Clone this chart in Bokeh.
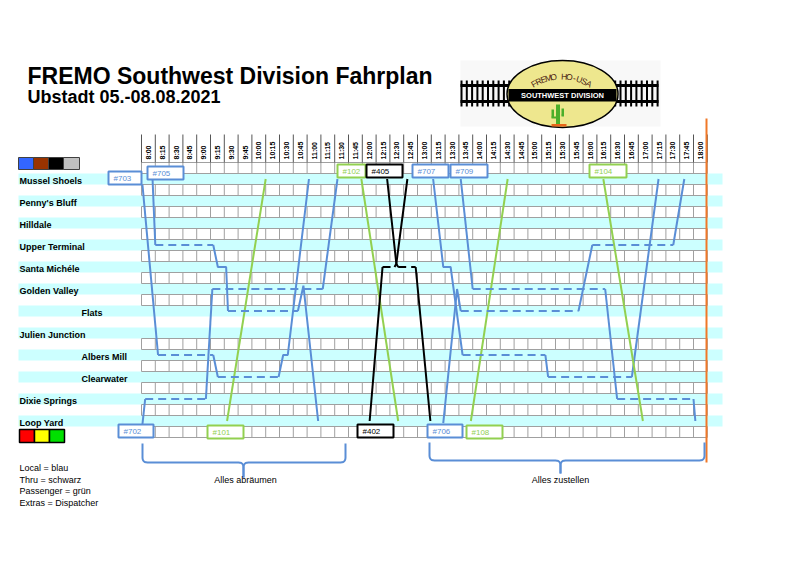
import math
from bokeh.plotting import figure
from bokeh.models import Range1d
from bokeh.embed import file_html
from bokeh.resources import INLINE
from bokeh.core.properties import value

# ---------------- data ----------------
stations = ["Mussel Shoels", "Penny's Bluff", "Hilldale", "Upper Terminal", "Santa Michéle",
            "Golden Valley", "Flats", "Julien Junction", "Albers Mill", "Clearwater",
            "Dixie Springs", "Loop Yard"]
station_indented = [False, False, False, False, False, False, True, False, True, True, False, False]

time_labels = ["8:00", "8:15", "8:30", "8:45", "9:00", "9:15", "9:30", "9:45",
               "10:00", "10:15", "10:30", "10:45", "11:00", "11:15", "11:30", "11:45",
               "12:00", "12:15", "12:30", "12:45", "13:00", "13:15", "13:30", "13:45",
               "14:00", "14:15", "14:30", "14:45", "15:00", "15:15", "15:30", "15:45",
               "16:00", "16:15", "16:30", "16:45", "17:00", "17:15", "17:30", "17:45", "18:00"]

# train paths: times and station positions (0 = Mussel Shoels ... 11 = Loop Yard)
t703 = ["8:01", "8:18", "9:18", "9:23", "10:29", "10:34", "10:39", "11:02"]
s703 = [0.25, 8, 8, 9, 9, 8, 8, 0]
t705 = ["8:12", "8:15", "9:18", "9:23", "9:32", "9:34", "10:50", "10:56", "11:12"]
s705 = [0, 3, 3, 4, 4, 6, 6, 4.85, 11]
t702 = ["8:01", "8:04", "9:10", "9:17", "11:17", "11:33"]
s702 = [11.15, 10, 10, 5, 5, 0]
t707 = ["13:17", "13:28", "13:36", "13:49", "15:19", "15:22", "16:53", "17:22"]
s707 = [0, 4, 4, 8, 8, 9, 9, 0]
t706 = ["13:28", "13:43", "13:47", "15:55", "16:10", "17:38", "17:50"]
s706 = [11.1, 5, 6, 6, 3, 3, 0]
t709 = ["13:47", "14:00", "16:24", "16:37", "18:00", "18:02"]
s709 = [0, 5, 5, 10, 10, 11]
t101 = ["9:33", "10:15"]
s101 = [11, 0]
t102 = ["11:59", "12:39"]
s102 = [0, 11]
t104 = ["16:22", "17:05"]
s104 = [0, 11]
t108 = ["13:58", "14:38"]
s108 = [11, 0]
t405 = ["12:27", "12:37", "12:39", "12:58", "13:14"]
s405 = [0, 3.85, 4, 4, 11]
t402 = ["12:08", "12:22", "12:35", "12:37", "12:49"]
s402 = [11, 4, 4, 3.85, 0]

BLUE = "#5a8ed6"
GREEN = "#92d050"
BLACK = "#000000"

trains = [(t703, s703, BLUE), (t705, s705, BLUE), (t702, s702, BLUE), (t707, s707, BLUE),
          (t706, s706, BLUE), (t709, s709, BLUE), (t101, s101, GREEN), (t102, s102, GREEN),
          (t104, s104, GREEN), (t108, s108, GREEN), (t405, s405, BLACK), (t402, s402, BLACK)]

# train number boxes: text, colour, left / right / top page-px
label_text = ["#703", "#705", "#102", "#405", "#707", "#709", "#104",
              "#702", "#101", "#402", "#706", "#108"]
label_color = [BLUE, BLUE, GREEN, BLACK, BLUE, BLUE, GREEN,
               BLUE, GREEN, BLACK, BLUE, GREEN]
label_left = [108, 147, 337, 366, 412, 450, 589, 118, 207, 357, 427, 466]
label_right = [141, 183, 365, 402, 448, 487, 626, 153, 243, 393, 462, 502]
label_top = [171, 166, 164, 164, 164, 164, 164, 424, 425, 424, 424, 425]
LBL_H = 13

legend_lines = ["Local = blau", "Thru = schwarz", "Passenger = grün", "Extras = Dispatcher"]

# ---------------- layout helpers ----------------
W, H = 784, 549
PX0, PXH = 141.0, 55.2     # page px of 8:00 and px per hour
PY0, PYS = 178.5, 22.0     # page px of first station row and px per row
OFF = 0                    # page px of the figure's top-left corner


def X(px):
    return 8 + (px - PX0) / PXH


def Y(py):
    return -(py - PY0) / PYS


def hrs(t):
    h, m = t.split(":")
    return int(h) + int(m) / 60.0


FONT = value("Liberation Sans")

p = figure(width=W, height=H, x_range=Range1d(X(OFF), X(OFF + W)), y_range=Range1d(Y(OFF + H), Y(OFF)),
           output_backend="svg", toolbar_location=None, min_border=0,
           x_axis_type=None, y_axis_type=None)
p.outline_line_color = None
p.background_fill_color = "white"
p.border_fill_color = "white"

# cyan station bands
p.quad(left=[X(18)] * 12, right=[X(722)] * 12,
       top=[-(i - 0.25) for i in range(12)], bottom=[-(i + 0.25) for i in range(12)],
       fill_color="#ccffff", line_color=None)

# cell rows
col_edges = [8 + k / 4 for k in range(len(time_labels) + 1)]
cell_rows = [-1] + [i for i in range(12) if i != 6]
hx0, hx1, hy0, hy1 = [], [], [], []
vx, vy0, vy1 = [], [], []
for r in cell_rows:
    top, bot = -(r + 0.25), -(r + 0.75)
    for yy in (top, bot):
        hx0.append(col_edges[0]); hx1.append(col_edges[-1]); hy0.append(yy); hy1.append(yy)
    for ce in col_edges:
        vx.append(ce); vy0.append(top); vy1.append(bot)
p.segment(x0=hx0, y0=hy0, x1=hx1, y1=hy1, line_color="#a0a0a0", line_width=1)
p.segment(x0=vx, y0=vy0, x1=vx, y1=vy1, line_color="#a0a0a0", line_width=1)

# header columns
p.segment(x0=col_edges, y0=[Y(134)] * len(col_edges), x1=col_edges, y1=[0.75] * len(col_edges),
          line_color="#555555", line_width=1)
p.text(x=[c + 0.125 for c in col_edges[:-1]], y=[Y(159)] * len(time_labels), text=time_labels,
       angle=math.pi / 2, text_align="left", text_baseline="middle",
       text_font=FONT, text_font_size="7px", text_font_style="bold", text_color="black")

# orange end line
p.segment(x0=[X(706)], y0=[Y(118)], x1=[X(706)], y1=[Y(462)], line_color="#f07828", line_width=2)

# train lines
solid_xs, solid_ys, solid_c = [], [], []
dash_xs, dash_ys, dash_c = [], [], []
for tt, ss, col in trains:
    xs = [hrs(t) for t in tt]
    ys = [-s for s in ss]
    run_x, run_y = [xs[0]], [ys[0]]
    for i in range(1, len(xs)):
        is_wait = (ss[i] == ss[i - 1]) and (xs[i] - xs[i - 1] > 10 / 60)
        if is_wait:
            if len(run_x) > 1:
                solid_xs.append(run_x); solid_ys.append(run_y); solid_c.append(col)
            dash_xs.append([xs[i - 1], xs[i]]); dash_ys.append([ys[i - 1], ys[i]]); dash_c.append(col)
            run_x, run_y = [xs[i]], [ys[i]]
        else:
            run_x.append(xs[i]); run_y.append(ys[i])
    if len(run_x) > 1:
        solid_xs.append(run_x); solid_ys.append(run_y); solid_c.append(col)

p.multi_line(xs=solid_xs, ys=solid_ys, line_color=solid_c, line_width=2)
p.multi_line(xs=dash_xs, ys=dash_ys, line_color=dash_c, line_width=2, line_dash="8 5")

# train number boxes
p.quad(left=[X(v) for v in label_left], right=[X(v) for v in label_right],
       top=[Y(v) for v in label_top], bottom=[Y(v + LBL_H) for v in label_top],
       fill_color="white", line_color=label_color, line_width=2)
p.text(x=[X(v + 5) for v in label_left], y=[Y(v + LBL_H / 2 + 0.5) for v in label_top],
       text=label_text, text_color=label_color, text_font=FONT, text_font_size="8px",
       text_align="left", text_baseline="middle")

# station labels
p.text(x=[X(81) if ind else X(19) for ind in station_indented], y=[-(i + 0.07) for i in range(12)],
       text=stations, text_font=FONT, text_font_size="9px", text_font_style="bold",
       text_align="left", text_baseline="middle", text_color="black")

# colour squares
p.quad(left=[X(18), X(33), X(48), X(63)], right=[X(33), X(48), X(63), X(79)],
       top=[Y(157)] * 4, bottom=[Y(169)] * 4,
       fill_color=["#3366ff", "#993300", "#000000", "#c0c0c0"], line_color="#404040", line_width=1)
p.quad(left=[X(19), X(34), X(49)], right=[X(34), X(49), X(64)],
       top=[Y(429)] * 3, bottom=[Y(442)] * 3,
       fill_color=["#ff0000", "#ffff00", "#00e000"], line_color="black", line_width=1.5)

# titles
p.text(x=[X(27)], y=[Y(75.5)], text=["FREMO Southwest Division Fahrplan"], text_font=FONT,
       text_font_size="23px", text_font_style="bold", text_baseline="middle", text_color="black")
p.text(x=[X(27)], y=[Y(96.5)], text=["Ubstadt 05.-08.08.2021"], text_font=FONT,
       text_font_size="18px", text_font_style="bold", text_baseline="middle", text_color="black")

# legend text
p.text(x=[X(19)] * 4, y=[Y(467.5 + 11.7 * i) for i in range(4)], text=legend_lines,
       text_font=FONT, text_font_size="9px", text_baseline="middle", text_color="black")


# braces
def brace(x0, x1, xm, ytop, ymid, ytip, r=5):
    def qc(a, c, b, n=6):
        pts = []
        for k in range(1, n + 1):
            t = k / n
            pts.append(((1 - t) ** 2 * a[0] + 2 * (1 - t) * t * c[0] + t * t * b[0],
                        (1 - t) ** 2 * a[1] + 2 * (1 - t) * t * c[1] + t * t * b[1]))
        return pts
    left = [(x0, ytop), (x0, ymid - r)] + qc((x0, ymid - r), (x0, ymid), (x0 + r, ymid)) + \
           [(xm - r, ymid)] + qc((xm - r, ymid), (xm, ymid), (xm, ymid + r)) + [(xm, ytip)]
    right = [(xm, ytip), (xm, ymid + r)] + qc((xm, ymid + r), (xm, ymid), (xm + r, ymid)) + \
            [(x1 - r, ymid)] + qc((x1 - r, ymid), (x1, ymid), (x1, ymid - r)) + [(x1, ytop)]
    return [[X(a) for a, b in left], [X(a) for a, b in right]], [[Y(b) for a, b in left], [Y(b) for a, b in right]]


bx1, by1 = brace(142, 345, 243, 443, 462, 477)
bx2, by2 = brace(429, 704, 560, 442, 460, 473)
p.multi_line(xs=bx1 + bx2, ys=by1 + by2, line_color=BLUE, line_width=2)
p.text(x=[X(245), X(560)], y=[Y(479), Y(479)], text=["Alles abräumen", "Alles zustellen"],
       text_font=FONT, text_font_size="9px", text_align="center", text_baseline="middle",
       text_color="black")

# ---------------- logo ----------------
p.quad(left=[X(460)], right=[X(660)], top=[Y(60)], bottom=[Y(126)], fill_color="#f8f8f8", line_color=None)
ties = [461 + 5.3 * k for k in range(38)]
p.segment(x0=[X(v) for v in ties], y0=[Y(80)] * len(ties), x1=[X(v) for v in ties], y1=[Y(106)] * len(ties),
          line_color="black", line_width=2)
p.segment(x0=[X(460), X(460)], y0=[Y(85), Y(101)], x1=[X(658), X(658)], y1=[Y(85), Y(101)],
          line_color="black", line_width=3)
p.ellipse(x=[X(562)], y=[Y(93.5)], width=[111 / PXH], height=[67 / PYS],
          fill_color="#eee78e", line_color="black", line_width=1.5)
p.quad(left=[X(508)], right=[X(616)], top=[Y(88.5)], bottom=[Y(101)], fill_color="black", line_color=None)
p.text(x=[X(562)], y=[Y(95)], text=["SOUTHWEST DIVISION"], text_font=FONT, text_font_size="7.5px",
       text_font_style="bold", text_color="white", text_align="center", text_baseline="middle")
arc_txt = "FREMO HO-USA"
cxp, cyp, rr = 561, 131, 55
n = len(arc_txt)
ax, ay, aang = [], [], []
for k, ch in enumerate(arc_txt):
    th = math.radians(90 + 30 - 60 * k / (n - 1))
    ax.append(X(cxp + rr * math.cos(th)))
    ay.append(Y(cyp - rr * math.sin(th)))
    aang.append(th - math.pi / 2)
p.text(x=ax, y=ay, text=list(arc_txt), angle=aang, text_font=FONT, text_font_size="8.5px",
       text_color="#4a1a10", text_align="center", text_baseline="alphabetic")
# cactus
p.quad(left=[X(555.5), X(551), X(561), X(551), X(561)], right=[X(559.5), X(553.5), X(563.5), X(555.5), X(563.5)],
       top=[Y(104), Y(109), Y(108), Y(116), Y(114)], bottom=[Y(124), Y(117), Y(115), Y(118), Y(116)],
       fill_color="#4caf2a", line_color=None)
p.quad(left=[X(551)], right=[X(566)], top=[Y(123.5)], bottom=[Y(126)], fill_color="#e8661a", line_color=None)

open("out.html", "w").write(file_html(p, INLINE))
